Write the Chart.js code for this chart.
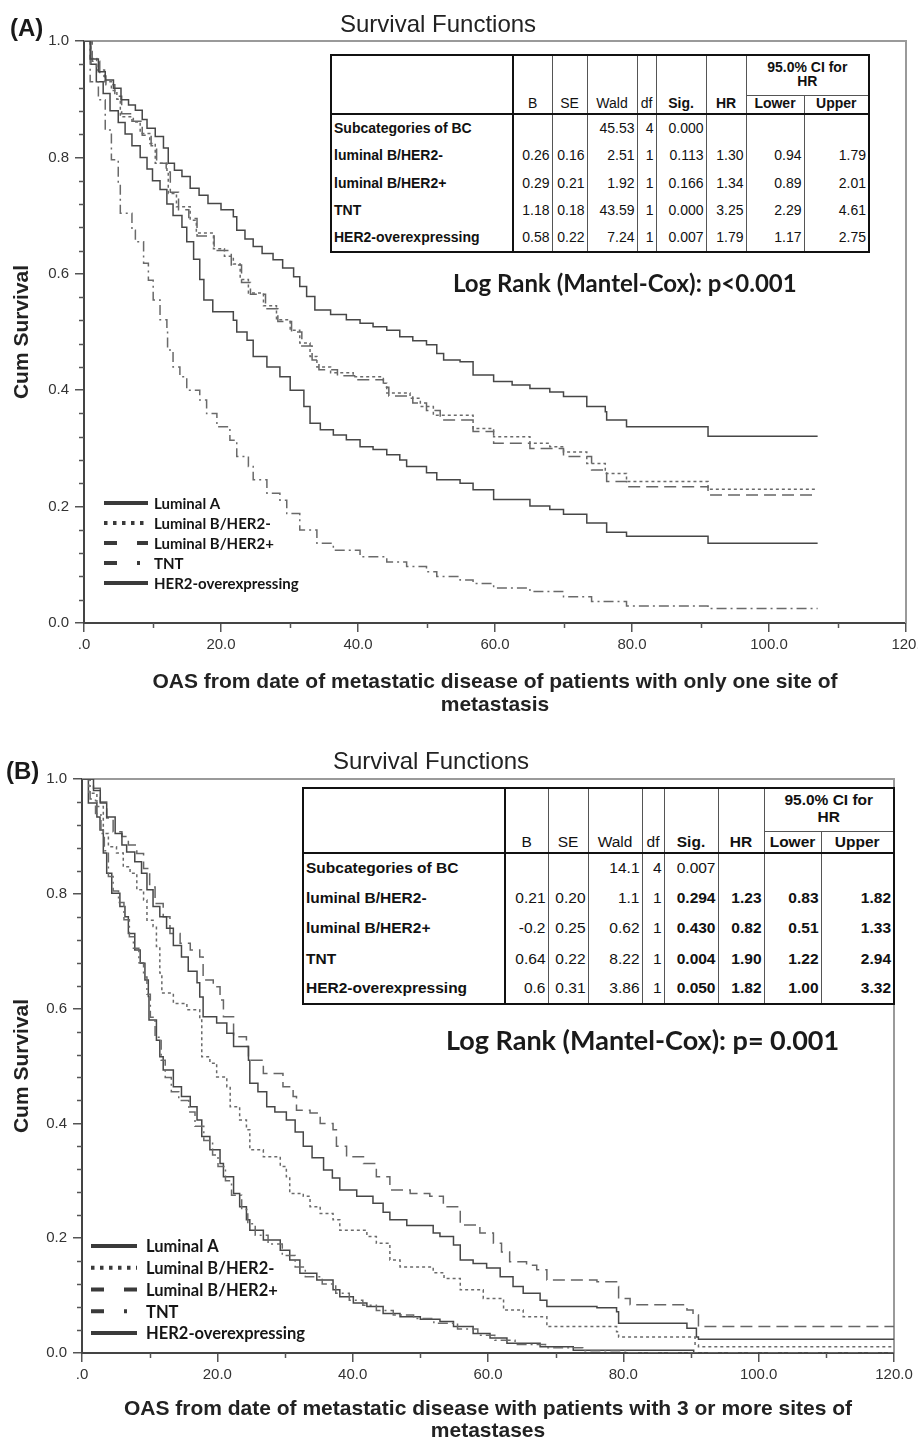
<!DOCTYPE html>
<html>
<head>
<meta charset="utf-8">
<title>Survival Functions</title>
<script src="https://cdn.jsdelivr.net/npm/chart.js@4.4.1/dist/chart.umd.min.js"></script>
<style>
  body { margin: 0; background: #fff; width: 918px; height: 1440px; position: relative; overflow: hidden; }
  .panel { position: absolute; left: 0; width: 918px; }
  .txt { position: absolute; white-space: nowrap; line-height: 1; color: #1a1a1a; }
  .plbl { font-family: 'Liberation Sans', Arial, sans-serif; font-weight: bold; font-size: 24px; }
  .ttl { font-family: 'Liberation Sans', Arial, sans-serif; font-size: 24px; color: #222; }
  .logrank { font-family: Lato, 'Open Sans', sans-serif; font-weight: bold; color: #1a1a1a; }

  table.km { position: absolute; border-collapse: collapse; table-layout: fixed; background: #fff;
    font-family: 'Liberation Sans', Arial, sans-serif; color: #111; border: 2px solid #111; }
  table.km th, table.km td { border-left: 1px solid #555; border-right: 1px solid #555; padding: 0 2px;
    white-space: nowrap; overflow: hidden; line-height: 1.05; }
  table.km th { font-weight: normal; vertical-align: bottom; text-align: center; border-bottom: 2px solid #111; padding-bottom: 2px; }
  table.km th.ci { border-bottom: 1px solid #555; vertical-align: middle; }
  table.km .lab { text-align: left; font-weight: bold; border-right: 2px solid #111; }
  table.km td.num { text-align: right; }
  table.km .b { font-weight: bold; }
</style>
</head>
<body>

<div class="panel" style="top:0;height:720px"><canvas id="chartA" width="918" height="720"></canvas></div>
<div class="panel" style="top:720px;height:740px"><canvas id="chartB" width="918" height="740"></canvas></div>

<div class="txt plbl" style="left:10px;top:16px">(A)</div>
<div class="txt ttl" style="left:340px;top:12px">Survival Functions</div>
<table class="km" id="tableA" style="left:330px;top:54px;font-size:14px"></table>
<div class="txt logrank" style="left:453px;top:271px;font-size:24px">Log Rank (Mantel-Cox): p&lt;0.001</div>

<div class="txt plbl" style="left:6px;top:759px">(B)</div>
<div class="txt ttl" style="left:333px;top:749px">Survival Functions</div>
<table class="km" id="tableB" style="left:302px;top:787px;font-size:15.5px"></table>
<div class="txt logrank" style="left:446px;top:1026px;font-size:27px">Log Rank (Mantel-Cox): p= 0.001</div>

<script>
// Groups, same order in both panels
const groups = ['Luminal A', 'Luminal B/HER2-', 'Luminal B/HER2+', 'TNT', 'HER2-overexpressing'];

// Axis tick labels
const yTickLabels = ['0.0', '0.2', '0.4', '0.6', '0.8', '1.0'];
const xTickLabelsA = ['.0', '20.0', '40.0', '60.0', '80.0', '100.0', '120.'];
const xTickLabelsB = ['.0', '20.0', '40.0', '60.0', '80.0', '100.0', '120.0'];

// Panel A - only one site of metastasis, [month, cum survival]
const aLumA = [[0, 1], [0.9, 0.969], [2.1, 0.947], [3.1, 0.933], [4.3, 0.919], [5.4, 0.899], [6.5, 0.89], [7.5, 0.881], [8.5, 0.865], [9.2, 0.85],
  [10.4, 0.836], [11.6, 0.816], [12.3, 0.79], [13.2, 0.778], [14.3, 0.767], [15.5, 0.747], [16.8, 0.735], [18.1, 0.721], [20, 0.71], [21.8, 0.698],
  [22.3, 0.675], [23.5, 0.66], [24.7, 0.647], [26, 0.635], [27.6, 0.624], [29, 0.61], [30.6, 0.595], [31.5, 0.578], [32.5, 0.561], [33.7, 0.538],
  [36, 0.53], [38.3, 0.521], [40.3, 0.515], [42.2, 0.509], [44.2, 0.503], [46.1, 0.492], [48, 0.485], [50, 0.478], [51.5, 0.463], [52.5, 0.452],
  [54.9, 0.449], [56.8, 0.426], [59.8, 0.415], [62.5, 0.409], [65.1, 0.403], [68, 0.397], [70, 0.389], [73.4, 0.372], [76.1, 0.363], [76.3, 0.349],
  [79.2, 0.337], [91.1, 0.321], [107.1, 0.321]];
const aLumBneg = [[0, 1], [1, 0.97], [1.85, 0.95], [3, 0.93], [4, 0.915], [4.8, 0.9], [5.3, 0.87], [7.2, 0.861], [8.2, 0.841], [9.6, 0.824],
  [10.4, 0.79], [12.1, 0.778], [12.3, 0.738], [13.5, 0.715], [15.5, 0.692], [16.4, 0.67], [18.9, 0.643], [20.5, 0.63], [21.8, 0.617], [22.8, 0.59],
  [24, 0.567], [26.2, 0.545], [28.1, 0.521], [30.1, 0.503], [31.5, 0.481], [33, 0.458], [34, 0.44], [36, 0.43], [39.3, 0.423], [43.7, 0.412],
  [44.2, 0.395], [47.6, 0.386], [49.1, 0.372], [51, 0.357], [56.8, 0.334], [59.8, 0.32], [65.1, 0.309], [68, 0.303], [70, 0.294], [73.4, 0.274],
  [76.1, 0.257], [79.2, 0.243], [91.1, 0.23], [107.1, 0.23]];
const aLumBpos = [[0, 1], [1.2, 0.965], [2.3, 0.94], [3.2, 0.925], [4.5, 0.905], [5.5, 0.875], [7, 0.862], [8.5, 0.838], [9.8, 0.82], [10.6, 0.79],
  [12, 0.775], [12.6, 0.74], [13.8, 0.71], [15.3, 0.695], [16.5, 0.665], [19, 0.64], [21.5, 0.615], [23, 0.585], [24.3, 0.565], [26.5, 0.54],
  [28.3, 0.518], [30.3, 0.5], [31.8, 0.476], [33.3, 0.452], [34.3, 0.435], [37, 0.425], [40, 0.418], [43.7, 0.405], [44.5, 0.39], [48, 0.378],
  [50, 0.365], [52, 0.349], [56.8, 0.329], [59.8, 0.309], [65.1, 0.3], [70, 0.286], [74.1, 0.263], [76.3, 0.243], [79.2, 0.234], [91.1, 0.22],
  [107.1, 0.22]];
const aTNT = [[0, 1], [0.9, 0.93], [2.1, 0.899], [3.1, 0.847], [4, 0.796], [5, 0.755], [5.3, 0.704], [7, 0.675], [7.5, 0.655], [8.7, 0.618],
  [9.4, 0.589], [10.1, 0.555], [11.1, 0.521], [12.1, 0.503], [12.2, 0.469], [13, 0.44], [14, 0.423], [15, 0.4], [16.9, 0.383], [17.9, 0.36],
  [19.4, 0.337], [21.3, 0.314], [22.3, 0.286], [24, 0.269], [24.7, 0.246], [26.7, 0.223], [28.6, 0.211], [29.6, 0.188], [31.5, 0.16], [34, 0.137],
  [36.4, 0.125], [40.3, 0.114], [44.2, 0.105], [47.1, 0.097], [50, 0.088], [51.5, 0.08], [54.9, 0.074], [56.8, 0.068], [59.8, 0.06], [65.1, 0.054],
  [70, 0.045], [74.1, 0.037], [79.2, 0.029], [91.1, 0.025], [107.1, 0.025]];
const aHER2 = [[0, 1], [1, 0.96], [1.8, 0.93], [2.8, 0.91], [3.8, 0.88], [5, 0.86], [6, 0.84], [7, 0.82], [8.2, 0.8], [9.2, 0.78],
  [10, 0.76], [11.1, 0.745], [12.1, 0.72], [13, 0.7], [14.3, 0.68], [15, 0.655], [16, 0.625], [16.9, 0.59], [17.5, 0.555], [18.8, 0.535],
  [21.8, 0.52], [22.3, 0.5], [23.8, 0.486], [24.7, 0.458], [26.7, 0.44], [28.6, 0.423], [30.1, 0.4], [32.1, 0.372], [33, 0.343], [34.5, 0.332],
  [36.4, 0.323], [38.3, 0.315], [40.3, 0.303], [42.2, 0.298], [44.2, 0.289], [46.1, 0.28], [47.1, 0.269], [50, 0.258], [51.5, 0.246], [54.9, 0.24],
  [56.8, 0.229], [59.8, 0.212], [65.1, 0.201], [68, 0.195], [70, 0.187], [73.4, 0.172], [76.3, 0.156], [79.2, 0.149], [91.1, 0.137], [107.1, 0.137]];

// Panel B - 3 or more sites of metastases
const bLumA = [[0, 1], [1.7, 0.98], [2.7, 0.958], [3.65, 0.934], [4.9, 0.905], [5.9, 0.885], [6.6, 0.873], [7.8, 0.856], [8.8, 0.836], [9.6, 0.807],
  [10.5, 0.778], [11.5, 0.76], [12.5, 0.74], [13.5, 0.71], [14.7, 0.69], [15.7, 0.665], [17, 0.645], [17.4, 0.62], [17.9, 0.586], [19.9, 0.575],
  [21.4, 0.557], [22.4, 0.534], [24.6, 0.51], [24.8, 0.47], [26, 0.455], [27.3, 0.429], [28.5, 0.42], [30.2, 0.406], [31.5, 0.385], [32.7, 0.36],
  [34, 0.34], [35.7, 0.319], [37, 0.305], [38.1, 0.284], [40.6, 0.273], [43, 0.261], [44.5, 0.245], [45.5, 0.232], [48, 0.222], [51.9, 0.209],
  [52.9, 0.203], [54.9, 0.188], [55.9, 0.162], [57.8, 0.156], [59.8, 0.148], [61.8, 0.133], [63.7, 0.116], [65.2, 0.104], [67.7, 0.092], [68.7, 0.081],
  [76.1, 0.079], [79, 0.072], [79.3, 0.052], [89.4, 0.043], [90.8, 0.028], [91.1, 0.024], [120, 0.024]];
const bLumBneg = [[0, 1], [1, 0.975], [2.2, 0.952], [3.15, 0.905], [3.9, 0.882], [5.1, 0.871], [6.1, 0.847], [7.1, 0.836], [8.1, 0.807], [9.1, 0.789],
  [9.6, 0.754], [10.5, 0.743], [11, 0.708], [11.5, 0.662], [11.8, 0.627], [13.5, 0.609], [15.5, 0.598], [17.4, 0.58], [17.7, 0.516], [18.9, 0.505],
  [19.9, 0.481], [21.4, 0.464], [21.9, 0.429], [23.3, 0.406], [24.3, 0.389], [24.8, 0.354], [26.8, 0.342], [29.3, 0.325], [30.2, 0.307], [30.7, 0.278],
  [32.7, 0.273], [33.7, 0.255], [35.2, 0.243], [37.1, 0.232], [38.1, 0.214], [42.1, 0.203], [43.5, 0.191], [45.5, 0.162], [47, 0.15], [51.9, 0.14],
  [53.5, 0.13], [55.9, 0.11], [59.3, 0.095], [62.3, 0.075], [65.2, 0.063], [68.7, 0.046], [79, 0.037], [79.3, 0.028], [90.6, 0.014], [91.1, 0.011],
  [120, 0.011]];
const bLumBpos = [[0, 1], [1.7, 0.984], [2.7, 0.96], [3.65, 0.932], [4.6, 0.908], [5.9, 0.9], [6.85, 0.885], [8.1, 0.87], [9.1, 0.844], [10, 0.812],
  [10.8, 0.783], [12, 0.76], [13, 0.731], [14.5, 0.714], [16, 0.702], [17.4, 0.69], [17.9, 0.65], [19.4, 0.638], [20.4, 0.615], [20.9, 0.586],
  [22.4, 0.551], [24.3, 0.534], [24.6, 0.51], [26.8, 0.487], [29.7, 0.464], [31.2, 0.447], [31.7, 0.423], [33.7, 0.418], [35.2, 0.4], [37.1, 0.389],
  [37.6, 0.36], [39.1, 0.342], [41.6, 0.33], [43.5, 0.307], [45.5, 0.284], [48.5, 0.278], [51.4, 0.273], [53.4, 0.255], [55.9, 0.223], [58.8, 0.209],
  [60.8, 0.191], [62, 0.176], [63.2, 0.159], [65.7, 0.153], [67.2, 0.145], [68.7, 0.127], [76.1, 0.124], [79, 0.116], [79.3, 0.095], [81, 0.084],
  [89.4, 0.075], [90.3, 0.066], [91.1, 0.046], [120, 0.046]];
const bTNT = [[0, 1], [1.2, 0.965], [2, 0.94], [2.8, 0.905], [3.3, 0.875], [3.9, 0.83], [4.6, 0.805], [5.4, 0.785], [6.2, 0.755], [7, 0.725],
  [7.6, 0.705], [8.4, 0.68], [9.1, 0.655], [9.6, 0.625], [10.1, 0.585], [10.8, 0.55], [11.7, 0.51], [12.3, 0.48], [13.2, 0.455], [14.3, 0.44],
  [15.8, 0.42], [16.7, 0.395], [18, 0.37], [19.3, 0.345], [20.1, 0.325], [21.2, 0.3], [22.1, 0.275], [23.6, 0.25], [24.5, 0.225], [25.6, 0.205],
  [27.5, 0.19], [29.6, 0.17], [31.5, 0.15], [33, 0.133], [35.5, 0.12], [37.5, 0.104], [39.5, 0.092], [41.5, 0.083], [43.5, 0.074], [46, 0.066],
  [49, 0.06], [52, 0.052], [55.5, 0.042], [58.5, 0.031], [61, 0.022], [64, 0.015], [68.5, 0.009], [74, 0.004], [80.5, 0], [120, 0]];
const bHER2 = [[0, 1], [0.94, 0.958], [2.2, 0.934], [2.66, 0.911], [3.15, 0.871], [3.65, 0.836], [4.4, 0.801], [5.6, 0.778], [6.35, 0.76], [6.85, 0.731],
  [7.8, 0.702], [8.6, 0.679], [9.3, 0.65], [9.8, 0.621], [9.9, 0.58], [11, 0.545], [11.5, 0.516], [12, 0.493], [13.5, 0.464], [14.7, 0.447],
  [16, 0.429], [17, 0.406], [17.7, 0.377], [18.9, 0.354], [20.4, 0.33], [20.9, 0.307], [22.4, 0.278], [23.3, 0.255], [24.3, 0.232], [24.8, 0.214],
  [26.8, 0.197], [29.3, 0.179], [30.7, 0.162], [32.2, 0.139], [34.7, 0.127], [37.1, 0.11], [38.1, 0.098], [40.1, 0.087], [42.1, 0.081], [44.5, 0.069],
  [47, 0.063], [50, 0.059], [52.9, 0.055], [54.9, 0.046], [57.8, 0.034], [60.3, 0.026], [62.8, 0.017], [67.7, 0.011], [72.6, 0.005], [90.4, 0], [120, 0]];

// Cox regression tables
const tableHead = ['B', 'SE', 'Wald', 'df', 'Sig.', 'HR'];
const tableHeadBold = [false, false, false, false, true, true];
const tableRowLabels = ['Subcategories of BC', 'luminal B/HER2-', 'luminal B/HER2+', 'TNT', 'HER2-overexpressing'];
const tableA = [
  ['', '', '45.53', '4', '0.000', '', '', ''],
  ['0.26', '0.16', '2.51', '1', '0.113', '1.30', '0.94', '1.79'],
  ['0.29', '0.21', '1.92', '1', '0.166', '1.34', '0.89', '2.01'],
  ['1.18', '0.18', '43.59', '1', '0.000', '3.25', '2.29', '4.61'],
  ['0.58', '0.22', '7.24', '1', '0.007', '1.79', '1.17', '2.75']
];
const tableB = [
  ['', '', '14.1', '4', '0.007', '', '', ''],
  ['0.21', '0.20', '1.1', '1', '0.294', '1.23', '0.83', '1.82'],
  ['-0.2', '0.25', '0.62', '1', '0.430', '0.82', '0.51', '1.33'],
  ['0.64', '0.22', '8.22', '1', '0.004', '1.90', '1.22', '2.94'],
  ['0.6', '0.31', '3.86', '1', '0.050', '1.82', '1.00', '3.32']
];

// line looks
const lineColors = ['#474747', '#6a6a6a', '#666', '#6a6a6a', '#474747'];
const plotDash = [[], [3, 3], [12, 6], [10, 4, 2, 4], []];
const legendDash = [[], [3.5, 5.5], [13, 20, 11, 0], [13, 20, 3, 20], []];

function buildTable(id, rows, boldValues, widths, hdrH, rowH) {
  const t = document.getElementById(id);
  let total = widths.reduce((a, w) => a + w, 0);
  let html = '<colgroup>' + widths.map(w => `<col style="width:${w}px">`).join('') + '</colgroup>';
  html += `<tr style="height:${hdrH[0]}px"><th rowspan="2" class="lab"></th>`;
  tableHead.forEach((c, i) => {
    html += `<th rowspan="2"${tableHeadBold[i] ? ' class="b"' : ''}>${c}</th>`;
  });
  html += '<th colspan="2" class="b ci">95.0% CI for<br>HR</th></tr>';
  html += `<tr style="height:${hdrH[1]}px"><th class="b">Lower</th><th class="b">Upper</th></tr>`;
  tableRowLabels.forEach((lab, r) => {
    html += `<tr style="height:${rowH}px"><td class="lab">${lab}</td>`;
    rows[r].forEach((v, c) => {
      const bold = boldValues && r > 0 && c >= 4;
      html += `<td class="num${bold ? ' b' : ''}">${v}</td>`;
    });
    html += '</tr>';
  });
  t.style.width = total + 'px';
  t.innerHTML = html;
}

buildTable('tableA', tableA, false, [182, 39, 35, 50, 19, 50, 40, 58, 65], [40, 19], 27.6);
buildTable('tableB', tableB, true, [202, 43, 40, 54, 22, 54, 46, 57, 73], [43, 22], 30.2);

// frame (top + right) and minor ticks
const framePlugin = {
  id: 'frame',
  beforeDatasetsDraw(chart) {
    const ctx = chart.ctx, a = chart.chartArea;
    const xs = chart.scales.x, ys = chart.scales.y;
    ctx.save();
    ctx.strokeStyle = '#9a9a9a';
    ctx.lineWidth = 2;
    ctx.beginPath();
    ctx.moveTo(a.left, a.top);
    ctx.lineTo(a.right, a.top);
    ctx.lineTo(a.right, a.bottom);
    ctx.stroke();

    ctx.strokeStyle = '#555';
    ctx.lineWidth = 1.5;
    for (let k = 1; k < 25; k++) {
      if (k % 5 === 0) continue;
      const y = Math.round(ys.getPixelForValue(k * 0.04)) + 0.5;
      ctx.beginPath();
      ctx.moveTo(a.left - 5, y);
      ctx.lineTo(a.left, y);
      ctx.stroke();
    }
    for (let v = 10; v < 120; v += 20) {
      const x = Math.round(xs.getPixelForValue(v)) + 0.5;
      ctx.beginPath();
      ctx.moveTo(x, a.bottom);
      ctx.lineTo(x, a.bottom + 5);
      ctx.stroke();
    }
    ctx.restore();
  }
};

// legend drawn inside the plot, bottom left
const legendPlugin = {
  id: 'kmLegend',
  afterDatasetsDraw(chart, args, opts) {
    const ctx = chart.ctx, a = chart.chartArea;
    const n = chart.data.datasets.length;
    ctx.save();
    ctx.font = `bold ${opts.fontSize}px Lato, 'Open Sans', sans-serif`;
    ctx.textBaseline = 'middle';
    chart.data.datasets.forEach((ds, i) => {
      const y = a.bottom - opts.bottom - (n - 1 - i) * opts.rowH;
      const x0 = a.left + opts.left;
      ctx.setLineDash(legendDash[i]);
      ctx.lineWidth = 4;
      ctx.lineCap = 'butt';
      ctx.strokeStyle = '#3a3a3a';
      ctx.beginPath();
      ctx.moveTo(x0, y);
      ctx.lineTo(x0 + opts.lineW, y);
      ctx.stroke();
      ctx.setLineDash([]);
      ctx.fillStyle = '#151515';
      ctx.fillText(ds.label, x0 + opts.lineW + opts.gap, y + 1);
    });
    ctx.restore();
  }
};

function makeChart(id, series, cfg) {
  return new Chart(document.getElementById(id), {
    type: 'line',
    data: {
      datasets: series.map((pts, i) => ({
        label: groups[i],
        data: pts.map(p => ({ x: p[0], y: p[1] })),
        stepped: 'before',
        borderColor: lineColors[i],
        borderWidth: 1.5,
        borderDash: plotDash[i],
        pointRadius: 0,
        fill: false
      }))
    },
    options: {
      responsive: false,
      animation: false,
      events: [],
      layout: { padding: cfg.pad },
      plugins: {
        legend: { display: false },
        tooltip: { enabled: false },
        kmLegend: cfg.legend
      },
      scales: {
        x: {
          type: 'linear', min: 0, max: 120,
          ticks: {
            stepSize: 20, autoSkip: false, maxRotation: 0, padding: 4, color: '#333',
            font: { family: 'Liberation Sans', size: 15 },
            callback: (v, i) => cfg.xLabels[i]
          },
          grid: { drawOnChartArea: false, tickLength: 9, color: '#555', lineWidth: 1.5 },
          border: { color: '#444', width: 2 },
          title: {
            display: true, text: cfg.xTitle, color: '#222',
            font: { family: 'Liberation Sans', size: 21, weight: 'bold', lineHeight: cfg.xTitleLH },
            padding: { top: 0, bottom: cfg.xTitlePad }
          },
          afterFit: s => { s.height = cfg.xH; s.paddingLeft = 0; s.paddingRight = 0; }
        },
        y: {
          type: 'linear', min: 0, max: 1,
          ticks: {
            stepSize: 0.2, padding: 6, color: '#333',
            font: { family: 'Liberation Sans', size: 15 },
            callback: (v, i) => yTickLabels[i]
          },
          grid: { drawOnChartArea: false, tickLength: 9, color: '#555', lineWidth: 1.5 },
          border: { color: '#444', width: 2 },
          title: {
            display: true, text: 'Cum Survival', color: '#222',
            font: { family: 'Liberation Sans', size: 21, weight: 'bold', lineHeight: 1.2 },
            padding: { top: 10, bottom: 0 }
          },
          afterFit: s => { s.width = cfg.yW; s.paddingTop = 0; s.paddingBottom = 0; }
        }
      }
    },
    plugins: [framePlugin, legendPlugin]
  });
}

// panel A canvas: 918x720, plot area 84..906 x 41..623
makeChart('chartA', [aLumA, aLumBneg, aLumBpos, aTNT, aHER2], {
  pad: { top: 41, right: 12, bottom: 0, left: 0 },
  yW: 84, xH: 97, xTitlePad: 3.5, xTitleLH: 23 / 21,
  xLabels: xTickLabelsA,
  xTitle: ['OAS from date of metastatic disease of patients with only one site of', 'metastasis'],
  legend: { left: 20, bottom: 40, rowH: 20, lineW: 44, gap: 6, fontSize: 15 }
});

// panel B canvas: 918x740 starting at 720, plot area 82..894 x 779..1353
makeChart('chartB', [bLumA, bLumBneg, bLumBpos, bTNT, bHER2], {
  pad: { top: 59, right: 24, bottom: 0, left: 0 },
  yW: 82, xH: 107, xTitlePad: 18, xTitleLH: 22 / 21,
  xLabels: xTickLabelsB,
  xTitle: ['OAS from date of metastatic disease with patients with 3 or more sites of', 'metastases'],
  legend: { left: 9, bottom: 20, rowH: 21.75, lineW: 46, gap: 9, fontSize: 16.5 }
});
</script>
</body>
</html>
